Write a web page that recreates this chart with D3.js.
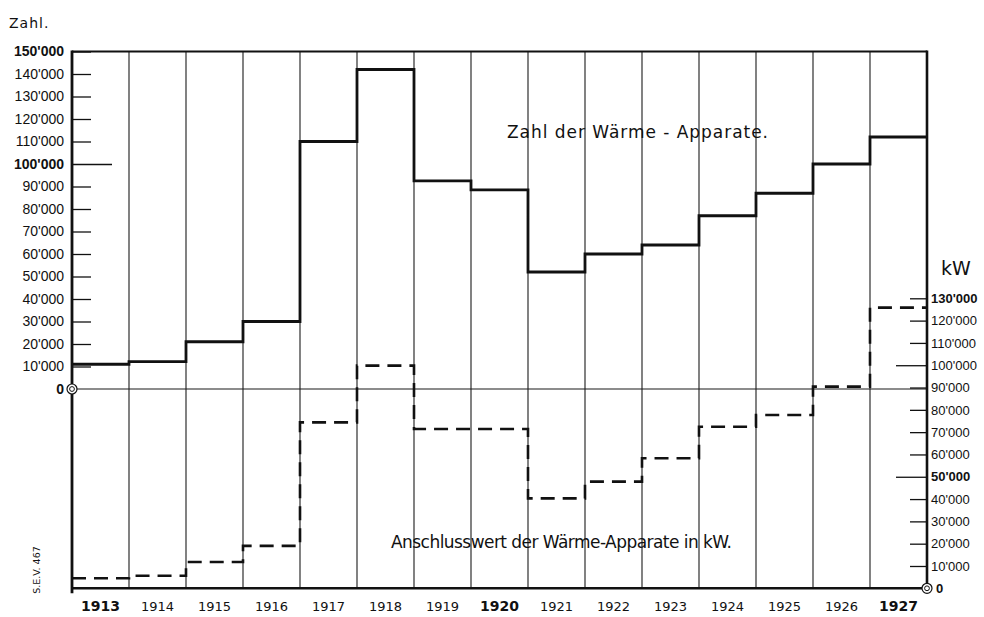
<!DOCTYPE html>
<html lang="en">
<head>
<meta charset="UTF-8">
<title>Zahl der Wärme-Apparate</title>
<script src="https://cdn.jsdelivr.net/npm/d3@7"></script>
<style>
    body { margin: 0; background: #fff; }
    svg { display: block; font-family: "DejaVu Sans", sans-serif; }
    .tick line { stroke: #111; stroke-width: 1.3; }
    .tick text { fill: #111; }
</style>
</head>
<body>
<svg id="chart" width="984" height="617"></svg>
<script>
    // data
    var years = [1913, 1914, 1915, 1916, 1917, 1918, 1919, 1920, 1921, 1922, 1923, 1924, 1925, 1926, 1927];
    var boldYears = [1913, 1920, 1927];
    // Zahl der Wärme-Apparate (left scale)
    var apparate = [11000, 12200, 21000, 30000, 110000, 142000, 92500, 88500, 52000, 60000, 64000, 77000, 87000, 100000, 112000];
    // Anschlusswert in kW (right scale)
    var anschlusswert = [4500, 5600, 11800, 19000, 74400, 99800, 71400, 71400, 40300, 47800, 58300, 72400, 77700, 90400, 125800];
    var leftTicks = [0, 10000, 20000, 30000, 40000, 50000, 60000, 70000, 80000, 90000, 100000, 110000, 120000, 130000, 140000, 150000];
    var leftBold = [0, 100000, 150000];
    var rightTicks = [0, 10000, 20000, 30000, 40000, 50000, 60000, 70000, 80000, 90000, 100000, 110000, 120000, 130000];
    var rightBold = [0, 50000, 130000];

    var plotLeft = 72, plotRight = 927, plotTop = 51.5, plotBottom = 588.3;

    var svg = d3.select('#chart');

    var x = d3.scaleBand().domain(years).range([plotLeft, plotRight]).padding(0);
    var yLeft = d3.scaleLinear().domain([0, 150000]).range([389, plotTop]);
    var yRight = d3.scaleLinear().domain([0, 130000]).range([plotBottom, 298.3]);

    var fmt = d3.formatLocale({decimal: '.', thousands: "'", grouping: [3], currency: ['', '']}).format(',');

    // column dividers
    svg.append('g')
        .selectAll('line')
        .data(years.slice(1))
        .enter()
        .append('line')
        .attr('x1', function (d) { return x(d); })
        .attr('x2', function (d) { return x(d); })
        .attr('y1', plotTop)
        .attr('y2', plotBottom)
        .attr('stroke', '#1a1a1a')
        .attr('stroke-width', 1.1);

    // zero line of the upper scale
    svg.append('line')
        .attr('x1', plotLeft).attr('x2', plotRight)
        .attr('y1', yLeft(0)).attr('y2', yLeft(0))
        .attr('stroke', '#1a1a1a')
        .attr('stroke-width', 1.2);

    // left axis, ticks pointing inwards
    var axisL = d3.axisLeft(yLeft)
        .tickValues(leftTicks)
        .tickSizeInner(-19)
        .tickSizeOuter(0)
        .tickPadding(8)
        .tickFormat(fmt);
    var gL = svg.append('g').attr('transform', 'translate(' + plotLeft + ',0)').call(axisL);
    gL.select('.domain').remove();
    gL.selectAll('.tick text')
        .style('font-size', '14px')
        .style('font-weight', function (d) { return leftBold.indexOf(d) >= 0 ? 'bold' : 'normal'; });
    gL.selectAll('.tick line')
        .attr('x2', function (d) { return d === 100000 ? 40 : (d === 0 ? 0 : 19); });

    // right axis, ticks pointing inwards
    var axisR = d3.axisRight(yRight)
        .tickValues(rightTicks)
        .tickSizeInner(-17)
        .tickSizeOuter(0)
        .tickPadding(4)
        .tickFormat(fmt);
    var gR = svg.append('g').attr('transform', 'translate(' + plotRight + ',0)').call(axisR);
    gR.select('.domain').remove();
    gR.selectAll('.tick text')
        .style('font-size', '13px')
        .attr('x', function (d) { return d === 0 ? 9 : 4; })
        .style('font-weight', function (d) { return rightBold.indexOf(d) >= 0 ? 'bold' : 'normal'; });
    gR.selectAll('.tick line')
        .attr('x2', function (d) { return (d === 100000 || d === 50000) ? -31 : (d === 0 ? 0 : -17); });

    // year labels
    svg.append('g')
        .selectAll('text')
        .data(years)
        .enter()
        .append('text')
        .attr('x', function (d) { return x(d) + x.bandwidth() / 2; })
        .attr('y', 611)
        .attr('text-anchor', 'middle')
        .style('font-size', function (d) { return boldYears.indexOf(d) >= 0 ? '14px' : '13px'; })
        .style('font-weight', function (d) { return boldYears.indexOf(d) >= 0 ? 'bold' : 'normal'; })
        .attr('fill', '#111')
        .text(function (d) { return d; });

    // step lines
    function stepPoints(values, yScale) {
        var pts = years.map(function (yr, i) { return [x(yr), yScale(values[i])]; });
        pts.push([plotRight, yScale(values[values.length - 1])]);
        return pts;
    }
    var line = d3.line().curve(d3.curveStepAfter);

    svg.append('path')
        .attr('d', line(stepPoints(apparate, yLeft)))
        .attr('fill', 'none')
        .attr('stroke', '#111')
        .attr('stroke-width', 2.8);

    svg.append('path')
        .attr('d', line(stepPoints(anschlusswert, yRight)))
        .attr('fill', 'none')
        .attr('stroke', '#111')
        .attr('stroke-width', 2.6)
        .attr('stroke-dasharray', '14,8');

    // frame
    var frame = svg.append('g').attr('stroke', '#111').attr('fill', 'none');
    frame.append('line').attr('x1', plotLeft).attr('x2', plotRight).attr('y1', plotTop).attr('y2', plotTop).attr('stroke-width', 2);
    frame.append('line').attr('x1', plotLeft).attr('x2', plotRight).attr('y1', plotBottom).attr('y2', plotBottom).attr('stroke-width', 2.4);
    frame.append('line').attr('x1', plotLeft).attr('x2', plotLeft).attr('y1', plotTop - 1).attr('y2', plotBottom + 5).attr('stroke-width', 2.8);
    frame.append('line').attr('x1', plotRight).attr('x2', plotRight).attr('y1', plotTop - 1).attr('y2', plotBottom).attr('stroke-width', 2.6);

    // double circles at the origins
    [[plotLeft, yLeft(0)], [plotRight, yRight(0)]].forEach(function (p) {
        svg.append('circle').attr('cx', p[0]).attr('cy', p[1]).attr('r', 5)
            .attr('fill', '#fff').attr('stroke', '#111').attr('stroke-width', 1.2);
        svg.append('circle').attr('cx', p[0]).attr('cy', p[1]).attr('r', 2.4)
            .attr('fill', '#fff').attr('stroke', '#111').attr('stroke-width', 1);
    });

    // texts
    svg.append('text').attr('x', 9).attr('y', 28)
        .style('font-size', '14px').style('letter-spacing', '1px').attr('fill', '#111')
        .text('Zahl.');
    svg.append('text').attr('x', 941).attr('y', 275)
        .style('font-size', '19px').attr('fill', '#111')
        .text('kW');
    svg.append('text').attr('x', 507).attr('y', 138)
        .style('font-size', '17px').attr('fill', '#111')
        .attr('textLength', 261).attr('lengthAdjust', 'spacing')
        .text('Zahl der Wärme - Apparate.');
    svg.append('text').attr('x', 391).attr('y', 548)
        .style('font-size', '17px').attr('fill', '#111')
        .attr('textLength', 341).attr('lengthAdjust', 'spacing')
        .text('Anschlusswert der Wärme-Apparate in kW.');
    svg.append('text')
        .attr('transform', 'translate(40,570) rotate(-90)')
        .attr('text-anchor', 'middle')
        .style('font-size', '9.5px').attr('fill', '#111')
        .text('S.E.V. 467');
</script>
</body>
</html>
